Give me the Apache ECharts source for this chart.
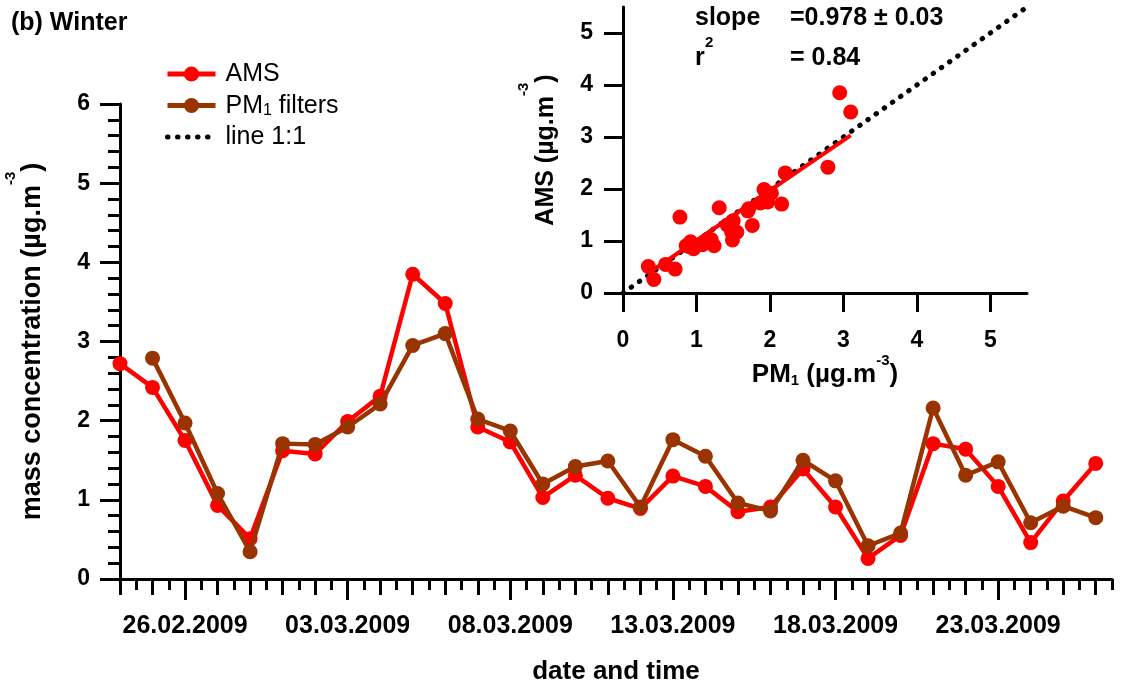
<!DOCTYPE html>
<html><head><meta charset="utf-8">
<script src="https://cdn.jsdelivr.net/npm/echarts@6/dist/echarts.min.js"></script>
<style>html,body{margin:0;padding:0;background:#fff}#c{width:1133px;height:686px}</style>
</head><body><div id="c"></div>
<script>
// ---- data ----
const dates = ['24.02.2009','25.02.2009','26.02.2009','27.02.2009','28.02.2009','01.03.2009','02.03.2009','03.03.2009','04.03.2009','05.03.2009','06.03.2009','07.03.2009','08.03.2009','09.03.2009','10.03.2009','11.03.2009','12.03.2009','13.03.2009','14.03.2009','15.03.2009','16.03.2009','17.03.2009','18.03.2009','19.03.2009','20.03.2009','21.03.2009','22.03.2009','23.03.2009','24.03.2009','25.03.2009','26.03.2009'];
const ams = [2.72,2.42,1.75,0.93,0.51,1.62,1.58,1.99,2.31,3.85,3.48,1.92,1.73,1.03,1.31,1.02,0.89,1.30,1.17,0.85,0.91,1.39,0.91,0.26,0.55,1.71,1.64,1.17,0.46,0.985,1.46];
const pm1 = [null,2.79,1.97,1.08,0.345,1.71,1.70,1.92,2.21,2.95,3.10,2.02,1.87,1.20,1.42,1.49,0.91,1.76,1.55,0.96,0.86,1.50,1.24,0.42,0.58,2.16,1.31,1.48,0.71,0.92,0.775];
const tickLabels = ['26.02.2009','03.03.2009','08.03.2009','13.03.2009','18.03.2009','23.03.2009'];
const axisStart = '24.02.2009';
const axisEnd = '26.03.2009';
const yTicksMain = [0,1,2,3,4,5,6];
const insetTicks = [0,1,2,3,4,5];
const regressionLine = [[0.35,0.385],[3.10,3.03]];
const oneToOneLine = [[0,0],[5.5,5.5]];
const slopeText = '=0.978 \u00b1 0.03';
const r2Text = '= 0.84';

// ---- helpers: x axis counts days from axisStart ----
const DAY = 86400000;
function ts(s){ const p = s.split('.').map(Number); return Date.UTC(p[2], p[1]-1, p[0]); }
const t0 = ts(axisStart);
function dayOf(s){ return Math.round((ts(s) - t0) / DAY); }
function fmt(v){ const d = new Date(t0 + Math.round(v) * DAY); const pad = n => (n<10?'0':'')+n; return pad(d.getUTCDate())+'.'+pad(d.getUTCMonth()+1)+'.'+d.getUTCFullYear(); }
const xMin = 0, xMax = dayOf(axisEnd) + 0.5;
const dayTicks = [], halfTicks = [];
for (let k = 0; k <= xMax * 2 + 1e-9; k++) { halfTicks.push(k/2); if (k % 2 === 0) dayTicks.push(k/2); }
const labelDays = tickLabels.map(dayOf);

const FONT = 'Liberation Sans, Arial, Helvetica, sans-serif';
const black = '#000';
const amsData = dates.map((d,i)=>[dayOf(d), ams[i]]);
const pmData = dates.map((d,i)=>[dayOf(d), pm1[i]]).filter(p=>p[1]!=null);
const scatterData = dates.map((d,i)=>[pm1[i], ams[i]]).filter(p=>p[0]!=null);

function richFor(size, raise){
  return {
    a:{fontSize:size, fontWeight:'bold', fontFamily:FONT, color:black, lineHeight:30, verticalAlign:'bottom'},
    sup:{fontSize:15, fontWeight:'bold', fontFamily:FONT, color:black, lineHeight:15, verticalAlign:'bottom', padding:[0,0,raise,0]},
    sub:{fontSize:15, fontWeight:'bold', fontFamily:FONT, color:black, lineHeight:12, verticalAlign:'bottom'}
  };
}

function tickAxis(vals, len){
  return {type:'value', gridIndex:0, position:'bottom', min:xMin, max:xMax,
    axisLine:{show:false, onZero:false},
    axisTick:{show:true, length:len, lineStyle:{color:black, width:3}, customValues:vals},
    axisLabel:{show:false}, splitLine:{show:false}};
}

const chart = echarts.init(document.getElementById('c'), null, {renderer:'canvas'});
chart.setOption({
  animation:false,
  backgroundColor:'#fff',
  textStyle:{fontFamily:FONT},
  grid:[
    {left:120, top:104, right:21, bottom:107, containLabel:false, outerBoundsMode:'none'},
    {left:623, top:7, width:404, height:286, containLabel:false, outerBoundsMode:'none'}
  ],
  legend:{
    data:['AMS','PM1 filters',{name:'line 1:1', itemStyle:{opacity:0}}],
    orient:'vertical', left:165, top:62, padding:0,
    itemWidth:48, itemHeight:19, itemGap:6.5,
    lineStyle:{width:5},
    formatter: n => n==='PM1 filters' ? '{n|PM}{s|1}{n| filters}' : '{n|'+n+'}',
    textStyle:{padding:[0,0,0,5], rich:{
      n:{fontSize:25, fontFamily:FONT, color:black, lineHeight:26, verticalAlign:'bottom'},
      s:{fontSize:16, fontFamily:FONT, color:black, lineHeight:10, verticalAlign:'bottom'}}}
  },
  xAxis:[
    {type:'value', gridIndex:0, position:'bottom', min:xMin, max:xMax,
     axisLine:{onZero:false, lineStyle:{color:black, width:3}},
     axisTick:{show:true, length:21, lineStyle:{color:black, width:3}, customValues:labelDays},
     axisLabel:{customValues:labelDays, formatter:fmt, fontSize:25, fontWeight:'bold', color:black, fontFamily:FONT, margin:35},
     splitLine:{show:false},
     name:'date and time', nameLocation:'middle', nameGap:80,
     nameTextStyle:{fontSize:26, fontWeight:'bold', color:black, fontFamily:FONT}},
    tickAxis(dayTicks, 16),
    tickAxis(halfTicks, 11),
    {type:'value', gridIndex:1, min:0, max:5.5,
     axisLine:{onZero:false, lineStyle:{color:black, width:3}},
     axisTick:{length:19, lineStyle:{color:black, width:3}, customValues:insetTicks},
     axisLabel:{customValues:insetTicks, fontSize:23, fontWeight:'bold', color:black, fontFamily:FONT, margin:36},
     splitLine:{show:false},
     name:'{a|PM}{sub|1}{a| (\u00b5g.m}{sup|-3}{a|)}', nameLocation:'middle', nameGap:60,
     nameTextStyle:{rich:richFor(26, 20)}}
  ],
  yAxis:[
    {type:'value', gridIndex:0, min:0, max:6,
     axisLine:{show:true, onZero:false, lineStyle:{color:black, width:3}},
     axisTick:{show:true, length:20, lineStyle:{color:black, width:3}, customValues:yTicksMain},
     minorTick:{show:true, splitNumber:5, length:12, lineStyle:{color:black, width:3}},
     axisLabel:{customValues:yTicksMain, fontSize:23, fontWeight:'bold', color:black, fontFamily:FONT, margin:30},
     splitLine:{show:false},
     name:'{a|mass concentration (\u00b5g.m}{sup|-3}{a|)}', nameLocation:'middle', nameGap:74, nameRotate:90,
     nameTextStyle:{rich:richFor(27, 28)}},
    {type:'value', gridIndex:1, min:0, max:5.5,
     axisLine:{show:true, onZero:false, lineStyle:{color:black, width:3}},
     axisTick:{show:true, length:19, lineStyle:{color:black, width:3}, customValues:insetTicks},
     axisLabel:{customValues:insetTicks, fontSize:23, fontWeight:'bold', color:black, fontFamily:FONT, margin:30},
     splitLine:{show:false},
     name:'{a|AMS (\u00b5g.m}{sup|-3}{a|)}', nameLocation:'middle', nameGap:64, nameRotate:90,
     nameTextStyle:{rich:richFor(25, 28)}}
  ],
  series:[
    {name:'AMS', type:'line', xAxisIndex:0, yAxisIndex:0, data:amsData,
     symbol:'circle', symbolSize:15, color:'#ff0000',
     lineStyle:{color:'#ff0000', width:4.5}, itemStyle:{color:'#ff0000'}, z:3},
    {name:'PM1 filters', type:'line', xAxisIndex:0, yAxisIndex:0, data:pmData,
     symbol:'circle', symbolSize:15, color:'#993300',
     lineStyle:{color:'#993300', width:4.5}, itemStyle:{color:'#993300'}, z:4},
    {name:'line 1:1', type:'line', xAxisIndex:3, yAxisIndex:1, data:oneToOneLine,
     symbol:'none', color:black,
     lineStyle:{color:black, width:5, type:[0.5,9.5], cap:'round'}, z:2},
    {name:'AMS vs PM1', type:'scatter', xAxisIndex:3, yAxisIndex:1, data:scatterData,
     symbol:'circle', symbolSize:15, itemStyle:{color:'#ff0000', opacity:1}, z:3},
    {name:'fit', type:'line', xAxisIndex:3, yAxisIndex:1, data:regressionLine,
     symbol:'none', lineStyle:{color:'#ff0000', width:4}, z:4}
  ],
  graphic:[
    {type:'text', style:{x:11, y:23, text:'(b) Winter', font:'bold 25px '+FONT, fill:black, verticalAlign:'middle'}},
    {type:'text', style:{x:695, y:18, text:'slope', font:'bold 25px '+FONT, fill:black, verticalAlign:'middle'}},
    {type:'text', style:{x:790, y:18, text:slopeText, font:'bold 25px '+FONT, fill:black, verticalAlign:'middle'}},
    {type:'text', style:{x:695, y:58, text:'r', font:'bold 25px '+FONT, fill:black, verticalAlign:'middle'}},
    {type:'text', style:{x:705, y:43, text:'2', font:'bold 15px '+FONT, fill:black, verticalAlign:'middle'}},
    {type:'text', style:{x:790, y:58, text:r2Text, font:'bold 25px '+FONT, fill:black, verticalAlign:'middle'}}
  ]
});
</script></body></html>
